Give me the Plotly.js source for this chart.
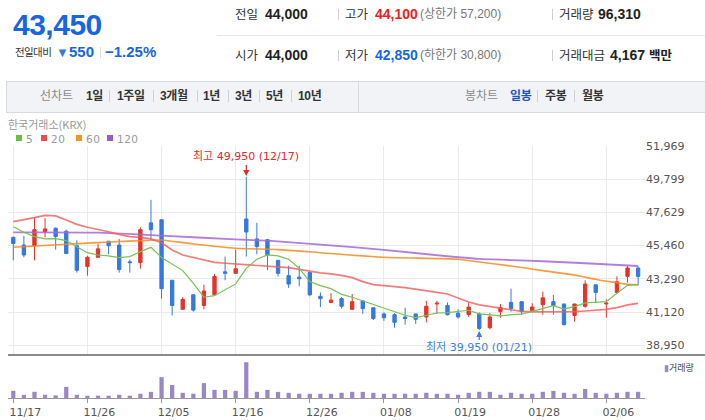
<!DOCTYPE html>
<html><head><meta charset="utf-8">
<script src="https://cdn.plot.ly/plotly-3.0.1.min.js"></script>
<style>
body{margin:0;padding:0;background:#fff;}
#wrap{position:relative;width:705px;height:420px;overflow:hidden;font-family:'Liberation Sans','Noto Sans CJK KR',sans-serif;}
.a{position:absolute;white-space:nowrap;}
.lbl{font-size:12.5px;color:#333;line-height:16px;font-family:'Noto Sans CJK KR',sans-serif;}
.val{font-size:14px;font-weight:bold;color:#222;line-height:16px;}
.sub{font-size:12px;color:#777;line-height:16px;}
.sep{position:absolute;width:1px;height:11px;background:#cfcfcf;}
.tb{font-size:12px;line-height:16px;font-weight:bold;color:#333;letter-spacing:-0.3px;}
.tbg{font-size:12px;line-height:16px;color:#8a8a8a;}
.tsep{position:absolute;width:1px;height:12px;background:#cdd0d6;top:90px;}
.lg{font-size:10.5px;line-height:10px;color:#999;font-family:'DejaVu Sans';letter-spacing:0.5px;}
#chart{position:absolute;left:0;top:0;width:705px;height:420px;}
</style></head>
<body><div id="wrap">
<div id="chart"></div>
<!-- header -->
<div class="a" style="left:13px;top:10px;font-size:30px;line-height:30px;font-weight:bold;color:#1766e0;letter-spacing:-0.5px;">43,450</div>
<div class="a" style="left:15px;top:45px;font-size:10.5px;line-height:14px;color:#333;font-family:'Noto Sans CJK KR',sans-serif;letter-spacing:-0.6px;">전일대비</div>
<div class="a" style="left:56px;top:45px;font-size:13px;line-height:15px;color:#3b78d8;">▼</div>
<div class="a" style="left:69px;top:43px;font-size:15px;line-height:17px;font-weight:bold;color:#1766e0;">550</div>
<div class="sep" style="left:100px;top:47px;background:#ddd;"></div>
<div class="a" style="left:105px;top:43px;font-size:15px;line-height:17px;font-weight:bold;color:#1766e0;">−1.25%</div>

<div class="a" style="left:217px;top:35px;width:488px;height:1px;background:#e6e6e6;"></div>
<div class="a lbl" style="left:235px;top:6px;">전일</div>
<div class="a val" style="left:265px;top:6px;">44,000</div>
<div class="sep" style="left:338px;top:9px;"></div>
<div class="a lbl" style="left:345px;top:6px;">고가</div>
<div class="a val" style="left:375px;top:6px;color:#f0201c;">44,100</div>
<div class="a sub" style="left:420px;top:6px;">(상한가 57,200)</div>
<div class="sep" style="left:552px;top:9px;"></div>
<div class="a lbl" style="left:559px;top:6px;">거래량</div>
<div class="a val" style="left:598px;top:6px;">96,310</div>

<div class="a lbl" style="left:235px;top:47px;">시가</div>
<div class="a val" style="left:265px;top:47px;">44,000</div>
<div class="sep" style="left:338px;top:50px;"></div>
<div class="a lbl" style="left:345px;top:47px;">저가</div>
<div class="a val" style="left:375px;top:47px;color:#1766e0;">42,850</div>
<div class="a sub" style="left:420px;top:47px;">(하한가 30,800)</div>
<div class="sep" style="left:552px;top:50px;"></div>
<div class="a lbl" style="left:559px;top:47px;">거래대금</div>
<div class="a val" style="left:610px;top:47px;">4,167 <span style="font-family:'Noto Sans CJK KR';font-size:12.5px;">백만</span></div>

<!-- toolbar -->
<div class="a" style="left:6px;top:81px;width:700px;height:30px;background:#f2f3f7;border:1px solid #d8dae0;border-right:none;"></div>
<div class="a" style="left:358px;top:82px;width:1px;height:30px;background:#d8dae0;"></div>
<div class="a tbg" style="left:40px;top:88px;">선차트</div>
<div class="a tb" style="left:86px;top:88px;">1일</div>
<div class="tsep" style="left:109px;"></div>
<div class="a tb" style="left:117px;top:88px;">1주일</div>
<div class="tsep" style="left:153px;"></div>
<div class="a tb" style="left:160px;top:88px;">3개월</div>
<div class="tsep" style="left:197px;"></div>
<div class="a tb" style="left:203px;top:88px;">1년</div>
<div class="tsep" style="left:228px;"></div>
<div class="a tb" style="left:235px;top:88px;">3년</div>
<div class="tsep" style="left:259px;"></div>
<div class="a tb" style="left:266px;top:88px;">5년</div>
<div class="tsep" style="left:291px;"></div>
<div class="a tb" style="left:298px;top:88px;">10년</div>
<div class="a tbg" style="left:465px;top:88px;">봉차트</div>
<div class="a tb" style="left:510px;top:88px;color:#1e56c8;">일봉</div>
<div class="tsep" style="left:537px;"></div>
<div class="a tb" style="left:545px;top:88px;">주봉</div>
<div class="tsep" style="left:574px;"></div>
<div class="a tb" style="left:582px;top:88px;">월봉</div>

<!-- source + MA legend -->
<div class="a" style="left:8px;top:119px;font-size:11px;line-height:11px;color:#999;font-family:'Noto Sans CJK KR',sans-serif;">한국거래소(KRX)</div>
<div class="a" style="left:16px;top:135px;width:6px;height:6px;background:#6cbf45;"></div>
<div class="a lg" style="left:26px;top:134px;">5</div>
<div class="a" style="left:41px;top:135px;width:6px;height:6px;background:#ec4b4b;"></div>
<div class="a lg" style="left:51px;top:134px;">20</div>
<div class="a" style="left:76px;top:135px;width:6px;height:6px;background:#f7931e;"></div>
<div class="a lg" style="left:86px;top:134px;">60</div>
<div class="a" style="left:107px;top:135px;width:6px;height:6px;background:#9b59d0;"></div>
<div class="a lg" style="left:117px;top:134px;">120</div>
</div>
<script>
const dates = ['11/17','11/18','11/19','11/20','11/21','11/24','11/25','11/26','11/27','11/28',
 '12/01','12/02','12/03','12/04','12/05','12/08','12/09','12/10','12/11','12/12',
 '12/15','12/16','12/17','12/18','12/19','12/22','12/23','12/24','12/26','12/29',
 '12/30','01/02','01/05','01/06','01/07','01/08','01/09','01/12','01/13','01/14',
 '01/15','01/16','01/19','01/20','01/21','01/22','01/23','01/26','01/27','01/28',
 '01/29','01/30','02/02','02/03','02/04','02/05','02/06','02/09','02/10','02/11'];
const openP = [46000,45500,45450,46350,46600,46400,45450,44100,44700,45750,
 45500,44400,44350,46950,47150,43200,41300,42250,41550,42250,
 43750,43650,47200,45900,45850,44500,43500,43400,43700,42150,
 41750,42000,41300,41850,41400,41000,40950,40800,41000,40800,
 41650,41550,41050,40950,41000,40100,41150,41750,41800,41200,
 41600,41800,41650,40900,41500,42900,41650,42400,43450,44000];
const highP = [46050,46100,47300,47250,46650,46500,45800,44800,45600,45750,
 45900,44550,46650,48450,47150,43200,42100,42250,42900,43600,
 44750,45200,49950,46950,45900,44500,44150,44150,43750,42400,
 42350,42100,42300,41850,41400,41100,41050,41400,41000,41850,
 41850,41750,41300,41750,41100,41050,41650,42650,41800,41700,
 42450,42250,41650,41650,43200,42900,41950,43450,44150,44100];
const lowP = [44500,44700,44500,46000,45200,44900,43700,43500,44700,44900,
 43700,43700,43950,45850,42000,40900,41300,41150,41300,42250,
 43200,43650,44750,44900,43850,43450,42700,42800,42150,41450,
 41700,41350,41300,41000,40600,40550,40100,40300,40350,40450,
 41000,40900,40700,40800,39950,40000,40750,41150,40950,41150,
 40950,40950,40250,40500,41400,41750,40750,42350,43050,42850];
const closeP = [45600,44850,46500,46550,46050,44950,43850,44700,45250,45450,
 43900,44350,46500,46500,42650,41550,41950,41250,42500,43450,
 43650,43950,46350,45400,44850,43650,42950,43300,42250,42000,
 41900,41500,41800,41350,40700,40750,40450,40700,40650,41500,
 41700,40950,40800,41450,40050,40800,41400,41350,41150,41450,
 42050,41550,40300,41650,42950,42400,41700,43100,44000,43450];
const volume = [112400,49800,96900,51200,40300,173600,50100,35200,36400,34900,
 50800,35700,66200,95800,325100,203400,80600,66500,232800,127300,
 125900,111800,557900,96700,126400,95600,80900,66100,65400,66800,
 65700,81400,96100,95500,80700,66300,65200,66600,65800,81300,
 65500,66400,50600,80800,96800,95900,50400,81700,65600,66900,
 96500,111200,81500,65300,141800,80500,66200,81600,96700,96310];
const ma5 = [46700,46330,46050,45900,45920,45790,45390,45000,44850,44790,
 44680,44740,45070,45350,44680,44260,43830,43000,42090,42190,
 42560,42960,43980,44570,44850,44790,44570,43980,43110,42850,
 42650,42280,42090,41850,41630,41370,41150,40910,40760,40890,
 41060,41080,41150,41240,41000,40930,40870,40950,40980,41170,
 41370,41540,41320,41480,41720,41760,41800,42350,42870,42910];
const ma20 = [47030,47140,47290,47440,47400,47140,46850,46660,46530,46370,
 46200,46050,46000,45900,45650,45180,44850,44680,44500,44370,
 44310,44260,44240,44200,44150,44090,44020,43910,43780,43680,
 43610,43520,43370,43110,42910,42830,42780,42720,42630,42520,
 42410,42300,42040,41780,41590,41480,41390,41260,41170,41130,
 41130,41130,41110,41150,41190,41240,41300,41410,41590,41690];
const ma60Dates = ['11/17','11/24','11/28','12/04','12/05','12/10','12/16','12/22','12/29','01/08',
 '01/19','01/21','01/26','01/29','02/03','02/05','02/06','02/09','02/10','02/11'];
const ma60 = [45350,45550,45700,45810,45830,45570,45290,45200,45000,44700,
 44570,44390,44130,43830,43540,43260,43130,43040,42930,42910];
const ma120Dates = ['11/17','11/27','12/05','12/16','12/19','12/29','01/08','01/19','01/21','01/26','01/29','02/04','02/11'];
const ma120 = [46330,46310,46110,45870,45790,45530,45180,44700,44590,44520,44440,44310,44130];
const priceTicks = [38950,41120,43290,45460,47629,49799,51969];
const priceTickText = ['38,950','41,120','43,290','45,460','47,629','49,799','51,969'];
const dateTicks = ['11/17','11/26','12/05','12/16','12/26','01/08','01/19','01/28','02/06'];

const RED='#e3342a', BLUE='#3479e0';
const W=705,H=420,L=8,R=60,T=146,B=22;
const ph=H-T-B; // 252
const mainBottom=(398-355)/ph, volTop=(398-357)/ph;
const xr=[-0.5,59.65];
const fontAx={family:'DejaVu Sans, Noto Sans CJK KR',size:11,color:'#555'};

const traces=[
 {type:'scatter',mode:'lines',x:ma120Dates,y:ma120,xaxis:'x',yaxis:'y',line:{color:'#a469d6',width:1.8,shape:'spline',smoothing:0.6},opacity:0.85,hoverinfo:'skip'},
 {type:'scatter',mode:'lines',x:ma60Dates,y:ma60,xaxis:'x',yaxis:'y',line:{color:'#f58a1f',width:1.6,shape:'spline',smoothing:0.6},opacity:0.85,hoverinfo:'skip'},
 {type:'scatter',mode:'lines',x:dates,y:ma20,xaxis:'x',yaxis:'y',line:{color:'#ef5b5b',width:1.7},opacity:0.8,hoverinfo:'skip'},
 {type:'scatter',mode:'lines',x:dates,y:ma5,xaxis:'x',yaxis:'y',line:{color:'#76c255',width:1.2},hoverinfo:'skip'},
 {type:'candlestick',x:dates,open:openP,high:highP,low:lowP,close:closeP,xaxis:'x',yaxis:'y',
  increasing:{line:{color:RED,width:1},fillcolor:RED},decreasing:{line:{color:BLUE,width:1},fillcolor:BLUE},whiskerwidth:0,hoverinfo:'skip'},
 {type:'bar',x:dates,y:volume,xaxis:'x2',yaxis:'y2',marker:{color:'#9b86c8'},width:0.4,hoverinfo:'skip'}
];
const layout={
 width:W,height:H,margin:{l:L,r:R,t:T,b:B},
 paper_bgcolor:'rgba(0,0,0,0)',plot_bgcolor:'rgba(0,0,0,0)',
 showlegend:false,boxgap:0.55,bargap:0.5,
 xaxis:{type:'category',categoryorder:'array',categoryarray:dates,range:xr,anchor:'y',domain:[0,1],
  showgrid:true,gridcolor:'#ebebeb',gridwidth:1,tickvals:dateTicks,showticklabels:false,ticks:'',zeroline:false,showline:false,
  rangeslider:{visible:false},fixedrange:true},
 xaxis2:{type:'category',categoryorder:'array',categoryarray:dates,range:xr,anchor:'y2',domain:[0,1],
  showgrid:false,tickvals:dateTicks,ticktext:dateTicks,ticks:'outside',ticklen:4,tickcolor:'#999',
  showline:true,linecolor:'#999',linewidth:1,tickfont:fontAx,ticklabelshift:12,zeroline:false,fixedrange:true},
 yaxis:{domain:[mainBottom,1],range:[38316,51969],side:'right',tickvals:priceTicks,ticktext:priceTickText,
  showgrid:true,gridcolor:'#ebebeb',gridwidth:1,zeroline:false,showline:false,ticks:'',tickfont:fontAx,fixedrange:true},
 yaxis2:{domain:[0,volTop],range:[0,640000],showgrid:false,showticklabels:false,zeroline:false,showline:false,fixedrange:true},
 shapes:[{type:'line',xref:'paper',yref:'paper',x0:0,x1:(W-L)/(W-L-R),y0:mainBottom,y1:mainBottom,line:{color:'#8a8a8a',width:2}}],
 annotations:[
  {x:'12/17',y:49950,xref:'x',yref:'y',text:'최고 49,950 (12/17)',showarrow:true,arrowhead:2,arrowsize:1,arrowwidth:1.2,
   arrowcolor:'#e8262a',ax:0,ay:-20,standoff:1,font:{family:'DejaVu Sans, Noto Sans CJK KR',size:11,color:'#e8262a'}},
  {x:'01/21',y:39950,xref:'x',yref:'y',text:'최저 39,950 (01/21)',showarrow:true,arrowhead:2,arrowsize:1,arrowwidth:1.2,
   arrowcolor:'#3d7fdc',ax:0,ay:18,standoff:1,font:{family:'DejaVu Sans, Noto Sans CJK KR',size:11,color:'#3d7fdc'}},
  {xref:'paper',yref:'paper',x:(662-L)/(W-L-R),y:(398-367)/ph,xanchor:'left',yanchor:'middle',showarrow:false,
   text:'<span style="color:#9b86c8">▮</span>거래량',font:{family:'Noto Sans CJK KR',size:9,color:'#444'}}
 ]
};
Plotly.newPlot('chart',traces,layout,{staticPlot:true,displayModeBar:false});
</script>
</body></html>
